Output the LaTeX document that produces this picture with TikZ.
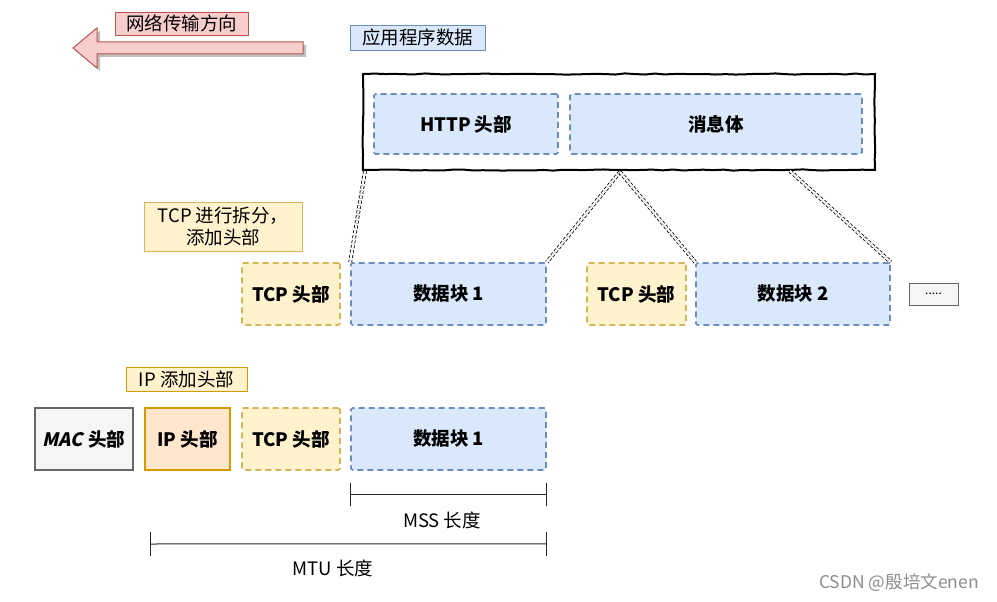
\documentclass[tikz,border=0pt]{standalone}
\usepackage{fontspec}
\setmainfont{Noto Sans CJK SC}
\newfontfamily\macfont{Noto Sans CJK SC}[FakeSlant=0.22]
\usetikzlibrary{calc,decorations.pathmorphing}
\definecolor{pinkf}{HTML}{F8CECC}
\definecolor{pinkd}{HTML}{B85450}
\definecolor{bluef}{HTML}{DAE8FC}
\definecolor{blued}{HTML}{6C8EBF}
\definecolor{yelf}{HTML}{FFF2CC}
\definecolor{yeld}{HTML}{D6B656}
\definecolor{orf}{HTML}{FFE6CC}
\definecolor{ord}{HTML}{D79B00}
\definecolor{grf}{HTML}{F5F5F5}
\definecolor{grd}{HTML}{666666}
\begin{document}
\begin{tikzpicture}[x=1pt,y=-1pt,
  lbl/.style={font=\fontsize{18.5}{20}\selectfont\bfseries, inner sep=0pt},
  note/.style={font=\fontsize{18.5}{22}\selectfont, inner sep=0pt, align=center},
  dashbox/.style={draw, line width=1.6pt, dash pattern=on 6pt off 4pt, rounded corners=1.5pt, lbl},
  bluebox/.style={dashbox, draw=blued, fill=bluef},
  yelbox/.style={dashbox, draw=yeld, fill=yelf},
  split/.style={draw=black, line width=0.8pt, double=white, double distance=2.2pt, dash pattern=on 3pt off 2pt},
  dim/.style={draw=black!85, line width=1pt}
]
\useasboundingbox (0,0) rectangle (997,602);
% network arrow
\fill[black!25] (76,51) -- (100,31) -- (100,45) -- (306,45) -- (306,57) -- (100,57) -- (100,71) -- cycle;
\draw[pinkd, fill=pinkf, line width=1pt] (73,48) -- (97,28) -- (97,42) -- (303,42) -- (303,54) -- (97,54) -- (97,68) -- cycle;
\node[note, draw=pinkd, fill=pinkf, minimum width=133pt, minimum height=23pt] (net) at (181.5,23.5) {网络传输方向};
\node[note, draw=blued, fill=bluef, minimum width=135pt, minimum height=25pt] (app) at (417.5,37.5) {应用程序数据};
% big box
\node[draw, line width=2pt, fill=white, minimum width=512pt, minimum height=96pt, decorate, decoration={random steps, segment length=10pt, amplitude=0.6pt}] (big) at (619,122) {};
\node[bluebox, minimum width=184pt, minimum height=60pt] (http) at (466,124) {HTTP 头部};
\node[bluebox, minimum width=292pt, minimum height=60pt] (msg) at (716,124) {消息体};
% tcp note
\node[note, draw=yeld, fill=yelf, minimum width=158pt, minimum height=49pt] (tcpnote) at (223,226.5) {TCP 进行拆分，\\添加头部};
% row 2
\node[yelbox, minimum width=98pt, minimum height=62pt] (tcp1) at (291,294) {TCP 头部};
\node[bluebox, minimum width=195pt, minimum height=62pt] (d1) at (448.5,294) {数据块 1};
\node[yelbox, minimum width=99pt, minimum height=62pt] (tcp2) at (636.5,294) {TCP 头部};
\node[bluebox, minimum width=194pt, minimum height=62pt] (d2) at (793,294) {数据块 2};
\node[draw=grd, fill=grf, line width=1pt, minimum width=49pt, minimum height=22pt, inner sep=0pt, font=\fontsize{12}{12}\selectfont] (dots) at (933.5,294) {.....};
% split lines
\coordinate (b1) at ($(big.south west)+(3,0)$);
\coordinate (b2) at ($(big.south)+(1,1)$);
\coordinate (b3) at ($(big.south)+(171,0)$);
\draw[split] (b1) -- (d1.north west);
\draw[split] (b2) -- (d1.north east);
\draw[split] (b2) -- (d2.north west);
\draw[split] (b3) -- (d2.north east);
% row 3
\node[note, draw=ord, fill=yelf, minimum width=121pt, minimum height=24pt] (ipnote) at (186.5,379) {IP 添加头部};
\node[lbl, draw=grd, fill=grf, line width=2pt, minimum width=98pt, minimum height=62pt] (mac) at (84,439) {{\macfont MAC}\hspace{5pt}头部};
\node[lbl, draw=ord, fill=orf, line width=2pt, minimum width=85pt, minimum height=62pt] (ip) at (187.5,439) {IP 头部};
\node[yelbox, minimum width=98pt, minimum height=62pt] (tcp3) at (291,439) {TCP 头部};
\node[bluebox, minimum width=195pt, minimum height=62pt] (d3) at (448.5,439) {数据块 1};
% dimension lines
\coordinate (m1) at ($(d3.south west)+(0,12)$);
\coordinate (m2) at ($(d3.south east)+(0,12)$);
\draw[dim] (m1) -- ++(0,23);
\draw[dim] (m2) -- ++(0,23);
\draw[dim] ($(m1)+(0,12)$) -- ($(m2)+(0,12)$);
\node[note] (mss) at (442,520) {MSS 长度};
\coordinate (u1) at ($(ip.south west)+(6,61)$);
\coordinate (u2) at ($(d3.south east)+(0,61)$);
\draw[dim] (u1) -- ++(0,24);
\draw[dim] (u2) -- ++(0,24);
\draw[dim] ($(u1)+(0,12)$) -- ($(u2)+(0,12)$);
\node[note] (mtu) at (333,568) {MTU 长度};
\node[inner sep=0pt, text=black!45, font=\fontsize{17.5}{18}\selectfont] (wm) at (899,583) {CSDN @殷培文enen};
\end{tikzpicture}
\end{document}
